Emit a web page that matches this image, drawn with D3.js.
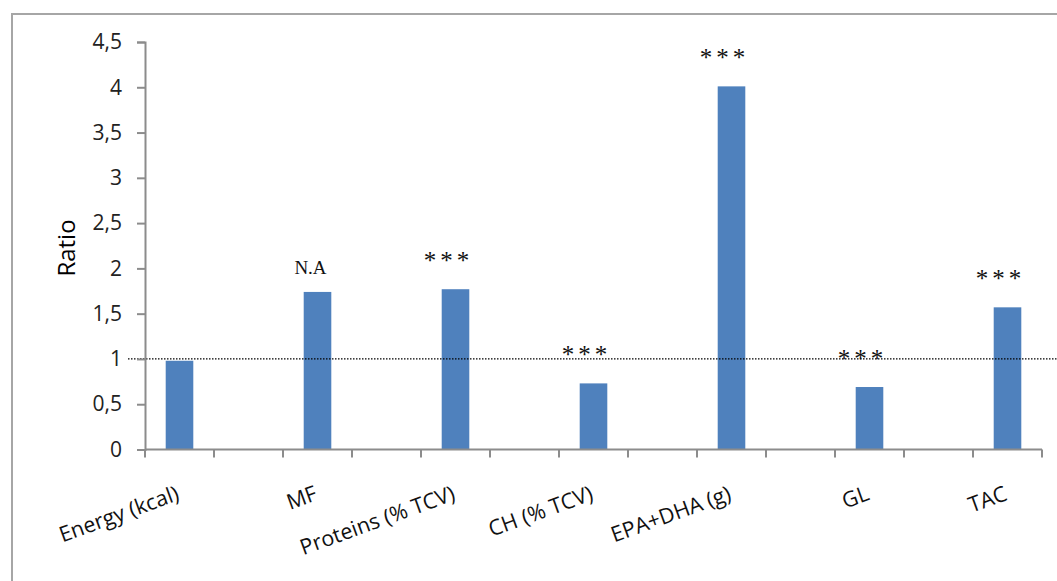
<!DOCTYPE html>
<html><head><meta charset="utf-8">
<script src="https://cdn.jsdelivr.net/npm/d3@7"></script>
<style>body{margin:0;background:#fff;} svg{display:block;}</style>
</head><body>
<script>
const categories = ["Energy (kcal)", "", "MF", " ", "Proteins (% TCV)", "  ", "CH (% TCV)", "   ", "EPA+DHA (g)", "    ", "GL", "     ", "TAC"];
const values = [0.98, null, 1.74, null, 1.77, null, 0.73, null, 4.01, null, 0.69, null, 1.57];
const annotations = [null, null, "N.A", null, "***", null, "***", null, "***", null, "***", null, "***"];
const yTicks = [0, 0.5, 1, 1.5, 2, 2.5, 3, 3.5, 4, 4.5];
const referenceValue = 1;

const W = 1057, H = 581;
const svg = d3.select("body").append("svg").attr("width", W).attr("height", H);

// frame
svg.append("path").attr("d", `M12,${H} L12,14 L${W},14`).attr("fill","none").attr("stroke","#a6a6a6").attr("stroke-width",2);

const x = d3.scaleBand().domain(categories).range([145, 1042]).paddingInner(0).paddingOuter(0);
const y = d3.scaleLinear().domain([0, 4.5]).range([449.5, 42]);
const barW = x.bandwidth() * 0.4;

// bars
svg.append("g").selectAll("rect").data(categories.map((c,i)=>({c, v: values[i]})).filter(d=>d.v!=null))
  .join("rect")
  .attr("x", d => x(d.c) + (x.bandwidth()-barW)/2)
  .attr("width", barW)
  .attr("y", d => y(d.v))
  .attr("height", d => y(0) - y(d.v))
  .attr("fill", "#4F81BD");

// reference line
svg.append("line").attr("x1", 128).attr("x2", W).attr("y1", y(referenceValue)).attr("y2", y(referenceValue))
  .attr("stroke", "#000").attr("stroke-width", 1.2).attr("stroke-dasharray", "1.5,1.5");

// y axis
const yAxis = svg.append("g").attr("transform", "translate(145,0)")
  .call(d3.axisLeft(y).tickValues(yTicks).tickSize(8).tickPadding(15).tickFormat(d => String(d).replace(".", ",")));
yAxis.select(".domain").attr("stroke", "#8c8c8c").attr("stroke-width", 2);
yAxis.selectAll(".tick line").attr("stroke", "#8c8c8c").attr("stroke-width", 2);
yAxis.selectAll("text").attr("font-family", "'Open Sans', sans-serif").attr("font-size", 21).attr("fill", "#222");

// x axis
const xAxis = svg.append("g").attr("transform", `translate(0,${y(0)})`);
xAxis.append("line").attr("x1", 145).attr("x2", 1042).attr("stroke", "#8c8c8c").attr("stroke-width", 2);
const bounds = categories.map(c => x(c)).concat([x.range()[1]]);
xAxis.selectAll("line.tk").data(bounds).join("line").attr("class","tk")
  .attr("x1", d=>d).attr("x2", d=>d).attr("y1", 0).attr("y2", 8)
  .attr("stroke", "#8c8c8c").attr("stroke-width", 2);
xAxis.selectAll("text").data(categories.filter(c => c.trim() !== "")).join("text")
  .attr("transform", d => `translate(${x(d) + x.bandwidth()/2 + 1},50) rotate(-20)`)
  .attr("text-anchor", "end")
  .attr("font-family", "'Open Sans', sans-serif").attr("font-size", 21.5).attr("fill", "#111")
  .text(d => d);

// y label
svg.append("text").attr("transform", "translate(75,248) rotate(-90)")
  .attr("text-anchor", "middle").attr("font-family", "'Open Sans', sans-serif").attr("font-size", 24).attr("fill", "#000")
  .text("Ratio");

// annotations
svg.append("g").selectAll("text").data(categories.map((c,i)=>({c, v: values[i], a: annotations[i]})).filter(d=>d.a))
  .join("text")
  .attr("x", d => x(d.c) + x.bandwidth()/2 - 7)
  .attr("y", d => y(d.v) - (d.a === "N.A" ? 18 : 20))
  .attr("text-anchor", "middle")
  .attr("font-family", "'Liberation Serif', serif")
  .attr("font-size", d => d.a === "N.A" ? 19 : 25)
  .attr("letter-spacing", d => d.a === "N.A" ? 0 : 4)
  .attr("fill", "#111")
  .text(d => d.a);
</script>
</body></html>
